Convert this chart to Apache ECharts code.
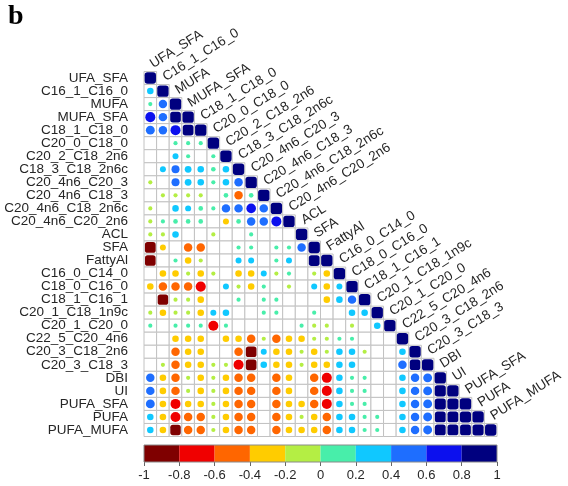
<!DOCTYPE html>
<html>
<head>
<meta charset="utf-8">
<script src="https://cdn.jsdelivr.net/npm/echarts@6/dist/echarts.min.js"></script>
<style>
html, body { margin: 0; padding: 0; background: #fff; }
#main { width: 568px; height: 486px; }
</style>
</head>
<body>
<div id="main"></div>
<script>
var labels = ['UFA_SFA', 'C16_1_C16_0', 'MUFA', 'MUFA_SFA', 'C18_1_C18_0', 'C20_0_C18_0',
    'C20_2_C18_2n6', 'C18_3_C18_2n6c', 'C20_4n6_C20_3', 'C20_4n6_C18_3', 'C20_4n6_C18_2n6c',
    'C20_4n6_C20_2n6', 'ACL', 'SFA', 'FattyAl', 'C16_0_C14_0', 'C18_0_C16_0', 'C18_1_C16_1',
    'C20_1_C18_1n9c', 'C20_1_C20_0', 'C22_5_C20_4n6', 'C20_3_C18_2n6', 'C20_3_C18_3', 'DBI',
    'UI', 'PUFA_SFA', 'PUFA', 'PUFA_MUFA'];

// lower triangle, row i holds columns 0..i-1 (diagonal = 1), null = not significant
var lowerRows = [
    [],
    [0.3],
    [0.12, 0.5],
    [0.7, 0.5, 0.88],
    [0.55, 0.5, 0.7, 0.9],
    [null, null, 0.12, 0.12, 0.12],
    [null, null, 0.25, 0.12, null, 0.12],
    [null, 0.25, 0.45, 0.32, 0.3, 0.15, 0.3],
    [-0.12, null, 0.45, 0.32, 0.3, 0.12, 0.3, 0.5],
    [null, -0.12, -0.12, -0.12, -0.12, null, 0.15, -0.5, 0.15],
    [-0.12, null, 0.3, 0.25, 0.15, 0.12, 0.5, 0.5, 0.65, 0.5],
    [-0.12, 0.12, 0.15, 0.15, 0.15, null, -0.25, 0.15, 0.5, 0.5, 0.7],
    [-0.12, -0.12, 0.3, null, null, -0.12, null, null, 0.12, null, null, null],
    [-0.9, -0.25, null, -0.5, -0.5, null, null, 0.12, 0.12, null, 0.12, 0.12, 0.5],
    [-0.88, null, 0.12, -0.3, -0.12, null, null, 0.25, 0.25, null, 0.12, 0.25, null, 0.9],
    [null, -0.3, -0.3, -0.12, -0.3, -0.12, null, -0.3, -0.3, 0.25, -0.12, 0.12, null, -0.12, -0.3],
    [-0.3, -0.5, -0.5, -0.5, -0.72, null, 0.25, -0.12, -0.3, 0.12, null, -0.12, null, 0.25, -0.3, 0.25],
    [null, -0.85, -0.12, -0.12, -0.3, null, null, 0.12, null, 0.12, 0.12, null, null, null, -0.3, 0.3, 0.5],
    [-0.12, -0.3, -0.12, -0.12, -0.3, 0.25, 0.3, null, null, 0.12, 0.12, null, null, 0.12, null, null, 0.3, 0.3],
    [0.12, null, 0.12, 0.12, 0.12, -0.7, 0.12, null, null, null, null, null, 0.12, -0.12, -0.12, null, -0.12, null, 0.3],
    [null, null, -0.3, -0.3, -0.3, null, -0.3, -0.3, -0.5, -0.12, -0.5, -0.3, -0.3, -0.12, -0.12, 0.12, 0.12, null, null, null],
    [null, null, -0.5, -0.3, -0.3, null, null, -0.5, -0.88, 0.25, -0.3, -0.3, -0.12, -0.3, -0.12, 0.3, 0.3, -0.12, null, null, 0.3],
    [null, -0.12, -0.5, -0.3, -0.3, -0.12, -0.12, -0.7, -0.88, 0.3, -0.3, -0.3, -0.12, -0.3, -0.3, 0.3, 0.3, null, null, null, 0.5, 0.85],
    [0.5, -0.3, -0.5, -0.12, -0.3, -0.12, -0.3, -0.5, -0.5, null, -0.5, -0.3, null, -0.5, -0.7, 0.3, 0.12, 0.12, null, null, 0.3, 0.5, 0.55],
    [0.5, -0.3, -0.5, -0.12, -0.3, -0.12, -0.3, -0.5, -0.5, null, -0.5, -0.3, null, -0.5, -0.7, 0.3, 0.12, 0.12, null, null, 0.3, 0.5, 0.55, 0.95],
    [0.55, -0.3, -0.7, -0.3, -0.3, -0.12, -0.3, -0.5, -0.5, null, -0.5, -0.3, -0.3, -0.5, -0.7, 0.3, 0.12, 0.12, null, null, 0.3, 0.5, 0.55, 0.95, 0.95],
    [0.3, -0.3, -0.7, -0.5, -0.5, -0.12, -0.3, -0.5, -0.5, null, -0.5, -0.3, -0.12, -0.3, -0.5, 0.3, 0.3, 0.12, 0.12, null, 0.3, 0.5, 0.55, 0.9, 0.9, 0.95],
    [0.3, -0.3, -0.85, -0.5, -0.5, -0.12, -0.3, -0.5, -0.5, null, -0.5, -0.3, -0.3, -0.3, -0.5, 0.3, 0.3, 0.12, 0.12, null, 0.3, 0.5, 0.55, 0.9, 0.9, 0.9, 0.95]
];

var breaks = [-1, -0.8, -0.6, -0.4, -0.2, 0, 0.2, 0.4, 0.6, 0.8, 1];
var binColors = ['#7F0000', '#F00000', '#FF6600', '#FFCC00', '#B4EE44',
    '#48EEAA', '#10C8FF', '#1E6EFF', '#0C10EE', '#00007F'];

var LABEL_FONT = '"Liberation Sans", Arial, sans-serif';
var TXT = '#262626';

function colorOf(v) {
    var k = Math.floor((v + 1) / 0.2 + 1e-9);
    if (k > 9) k = 9;
    if (k < 0) k = 0;
    return binColors[k];
}

// build cells and dots
var cells = [], dots = [];
lowerRows.forEach(function (row, i) {
    for (var j = 0; j <= i; j++) {
        cells.push([j, i]);
        var v = j === i ? 1 : row[j];
        if (v !== null && v !== undefined) {
            dots.push({ value: [j, i, v], itemStyle: { color: colorOf(v) } });
        }
    }
});

var gridL = 144, gridT = 71.5, gridW = 353, gridH = 365;
var cw = gridW / labels.length;

var chart = echarts.init(document.getElementById('main'), null, { renderer: 'canvas' });

var option = {
    animation: false,
    backgroundColor: '#fff',
    graphic: [{
        type: 'text', left: 8, top: 3,
        style: { text: 'b', font: 'bold 28px "Liberation Serif", "Times New Roman", serif', fill: '#000' }
    }],
    grid: [
        { left: gridL, top: gridT, width: gridW, height: gridH },
        { left: gridL, top: 445, width: gridW, height: 17 }
    ],
    xAxis: [
        { type: 'category', data: labels, gridIndex: 0, show: false },
        {
            type: 'value', gridIndex: 1, min: -1, max: 1, interval: 0.2,
            axisLine: { show: false },
            axisTick: { show: true, length: 4, lineStyle: { color: '#666' } },
            splitLine: { show: false },
            axisLabel: { fontSize: 13, color: TXT, fontFamily: LABEL_FONT, margin: 7 }
        }
    ],
    yAxis: [
        {
            type: 'category', data: labels, gridIndex: 0, inverse: true,
            axisLine: { show: false }, axisTick: { show: false },
            axisLabel: { interval: 0, fontSize: 13.5, color: TXT, fontFamily: LABEL_FONT, margin: 16 }
        },
        { type: 'value', gridIndex: 1, min: 0, max: 1, show: false }
    ],
    series: [
        {
            // cell grid of the lower triangle
            type: 'custom', xAxisIndex: 0, yAxisIndex: 0, z: 1, clip: false,
            data: cells,
            renderItem: function (params, api) {
                var c = api.coord([api.value(0), api.value(1)]);
                var s = api.size([1, 1]);
                return {
                    type: 'rect',
                    shape: { x: c[0] - s[0] / 2, y: c[1] - s[1] / 2, width: s[0], height: s[1] },
                    style: { fill: '#fff', stroke: '#C2C2C2', lineWidth: 1 }
                };
            }
        },
        {
            type: 'scatter', xAxisIndex: 0, yAxisIndex: 0, z: 3,
            data: dots,
            symbol: function (val) {
                return Math.abs(val[2]) >= 0.8 ? 'roundRect' : 'circle';
            },
            symbolSize: function (val) {
                var a = Math.abs(val[2]);
                if (a >= 0.8) return cw * 0.9 * Math.sqrt(a);
                return cw * 0.95 * Math.sqrt(a);
            },
            itemStyle: { opacity: 1 }
        },
        {
            // diagonal labels
            type: 'custom', xAxisIndex: 0, yAxisIndex: 0, z: 4, clip: false,
            data: labels.map(function (l, i) { return [i, i]; }),
            renderItem: function (params, api) {
                var i = api.value(0);
                var c = api.coord([i, i]);
                return {
                    type: 'text',
                    x: c[0] + 1, y: c[1] - 13,
                    rotation: 32 * Math.PI / 180,
                    style: {
                        text: labels[i], fontSize: 13.5, fontFamily: LABEL_FONT, fill: TXT,
                        align: 'left', verticalAlign: 'middle'
                    }
                };
            }
        },
        {
            // colour bar bins
            type: 'custom', xAxisIndex: 1, yAxisIndex: 1, z: 2,
            data: binColors.map(function (col, k) { return [breaks[k], breaks[k + 1], k]; }),
            renderItem: function (params, api) {
                var p0 = api.coord([api.value(0), 1]);
                var p1 = api.coord([api.value(1), 0]);
                return {
                    type: 'rect',
                    shape: { x: p0[0], y: p0[1], width: p1[0] - p0[0], height: p1[1] - p0[1] },
                    style: { fill: binColors[api.value(2)] }
                };
            }
        },
        {
            // colour bar outline
            type: 'custom', xAxisIndex: 1, yAxisIndex: 1, z: 3,
            data: [[-1, 1]],
            renderItem: function (params, api) {
                var p0 = api.coord([api.value(0), 1]);
                var p1 = api.coord([api.value(1), 0]);
                return {
                    type: 'rect',
                    shape: { x: p0[0], y: p0[1], width: p1[0] - p0[0], height: p1[1] - p0[1] },
                    style: { fill: 'none', stroke: '#8A8A8A', lineWidth: 1 }
                };
            }
        }
    ]
};

chart.setOption(option);
</script>
</body>
</html>
